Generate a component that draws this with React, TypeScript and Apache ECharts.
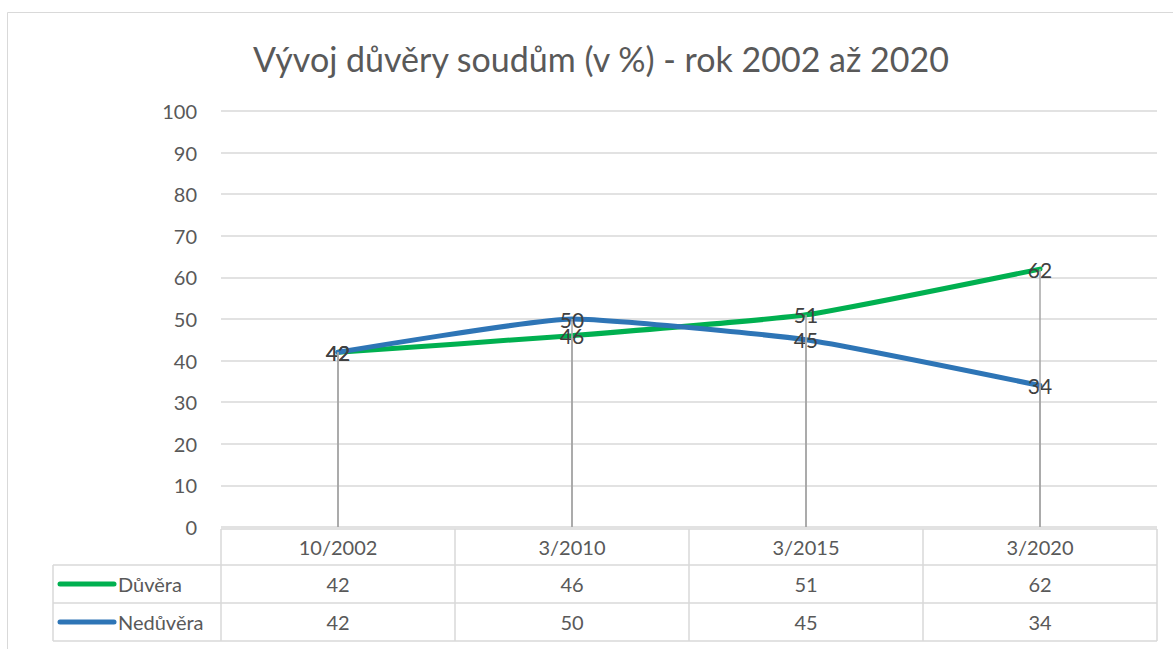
import React, { useEffect, useRef } from "react";
import * as echarts from "echarts";

const title = "Vývoj důvěry soudům (v %) - rok 2002 až 2020";
const categories = ["10/2002", "3/2010", "3/2015", "3/2020"];
const seriesNames = ["Důvěra", "Nedůvěra"];
const duvera = [42, 46, 51, 62];
const neduvera = [42, 50, 45, 34];
const colors = ["#00B050", "#2E75B6"];

const W = 1173;
const H = 649;
const FONT = "Lato";

export default function App() {
  const ref = useRef<HTMLDivElement>(null);
  useEffect(() => {
    const chart = echarts.init(ref.current!, null, { renderer: "svg" });
    const gridLeft = 221;
    const gridRight = 16;
    const plotW = W - gridLeft - gridRight;
    const cellW = plotW / categories.length;
    const lineColor = "#d9d9d9";
    const textColor = "#595959";
    const headerTop = 529;
    const row1 = 565;
    const row2 = 603;
    const row3 = 641;
    const tableLeft = 53;
    const values = [duvera, neduvera];

    const graphic: any[] = [];
    graphic.push({
      type: "rect",
      shape: { x: 7.5, y: 12.5, width: 1300, height: 800 },
      style: { fill: "none", stroke: lineColor, lineWidth: 1 },
      silent: true,
      z: -10,
    });
    graphic.push({ type: "line", shape: { x1: gridLeft, y1: headerTop, x2: gridLeft + plotW, y2: headerTop }, style: { stroke: lineColor, lineWidth: 1.5 } });
    [row1, row2, row3].forEach((y) =>
      graphic.push({ type: "line", shape: { x1: tableLeft, y1: y, x2: gridLeft + plotW, y2: y }, style: { stroke: lineColor, lineWidth: 1.5 } })
    );
    graphic.push({ type: "line", shape: { x1: tableLeft, y1: row1, x2: tableLeft, y2: row3 }, style: { stroke: lineColor, lineWidth: 1.5 } });
    for (let i = 0; i <= categories.length; i++) {
      const x = gridLeft + i * cellW;
      graphic.push({ type: "line", shape: { x1: x, y1: headerTop, x2: x, y2: row3 }, style: { stroke: lineColor, lineWidth: 1.5 } });
    }
    const rowsY = [(row1 + row2) / 2, (row2 + row3) / 2];
    seriesNames.forEach((name, si) => {
      const y = rowsY[si];
      graphic.push({ type: "line", shape: { x1: 60, y1: y, x2: 114, y2: y }, style: { stroke: colors[si], lineWidth: 5, lineCap: "round" } });
      graphic.push({ type: "text", x: 118, y, style: { text: name, fontSize: 20, fontFamily: FONT, fill: textColor, verticalAlign: "middle", align: "left" } });
      values[si].forEach((v, i) => {
        graphic.push({
          type: "text",
          x: gridLeft + (i + 0.5) * cellW,
          y,
          style: { text: String(v), fontSize: 20, fontFamily: FONT, fill: textColor, align: "center", verticalAlign: "middle" },
        });
      });
    });

    const mkDrop = (vals: number[]) => ({
      symbol: "none",
      silent: true,
      label: { show: false },
      lineStyle: { color: "#a6a6a6", width: 1.5, type: "solid" },
      data: vals.map((v, i) => [
        { coord: [categories[i], v] },
        { coord: [categories[i], 0] },
      ]),
    });

    chart.setOption({
      animation: false,
      backgroundColor: "#ffffff",
      title: {
        text: title,
        left: 596,
        textAlign: "center",
        top: 36,
        textStyle: { fontFamily: FONT, fontSize: 34, fontWeight: "normal", color: textColor },
      },
      grid: { left: gridLeft, right: gridRight, top: 111, bottom: H - 527 },
      xAxis: {
        type: "category",
        data: categories,
        boundaryGap: true,
        axisLine: { show: false },
        axisTick: { show: false },
        axisLabel: { fontFamily: FONT, fontSize: 20, color: textColor, margin: 10 },
      },
      yAxis: {
        type: "value",
        min: 0,
        max: 100,
        interval: 10,
        axisLine: { show: false },
        axisTick: { show: false },
        axisLabel: { fontFamily: FONT, fontSize: 20, color: textColor, margin: 24 },
        splitLine: { lineStyle: { color: lineColor, width: 1.5 } },
      },
      series: seriesNames.map((name, si) => ({
        name,
        type: "line",
        data: values[si],
        smooth: 0.15,
        showSymbol: true,
        symbol: "circle",
        symbolSize: 0,
        lineStyle: { color: colors[si], width: 5, cap: "round" },
        itemStyle: { color: colors[si] },
        label: {
          show: true,
          position: "inside",
          fontFamily: FONT,
          fontSize: 21,
          lineHeight: 16,
          color: "#404040",
        },
        markLine: mkDrop(values[si]),
        z: 3,
      })),
      graphic,
    });
    return () => chart.dispose();
  }, []);
  return <div ref={ref} style={{ position: "fixed", left: 0, top: 0, width: W, height: H }} />;
}
